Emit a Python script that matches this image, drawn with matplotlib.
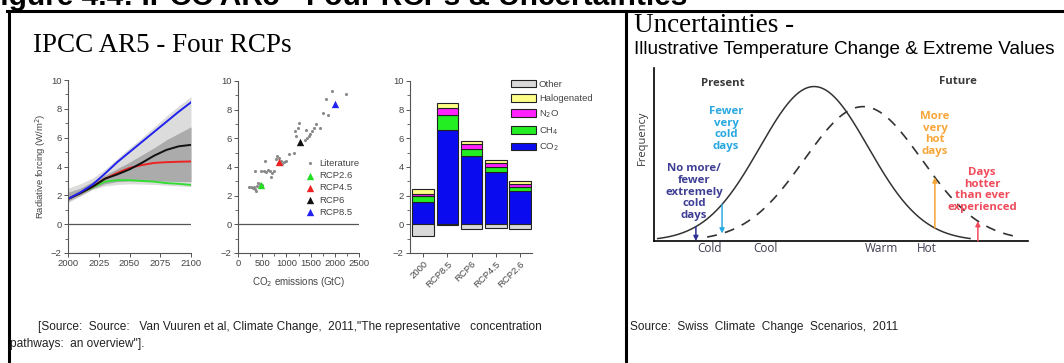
import numpy as np
import matplotlib
matplotlib.use("Agg")
import matplotlib.pyplot as plt
from matplotlib.lines import Line2D
from matplotlib.ticker import MultipleLocator

W, H = 1064, 363

# --- panel 1: radiative forcing pathways (W/m2) ---
years = [2000, 2010, 2020, 2030, 2040, 2050, 2060, 2070, 2080, 2090, 2100]
rcp85 = [1.75, 2.2, 2.75, 3.5, 4.3, 5.0, 5.7, 6.4, 7.1, 7.8, 8.45]
rcp6 = [1.75, 2.15, 2.6, 3.15, 3.45, 3.8, 4.25, 4.75, 5.15, 5.4, 5.5]
rcp45 = [1.75, 2.15, 2.6, 3.15, 3.55, 3.9, 4.1, 4.25, 4.3, 4.33, 4.35]
rcp26 = [1.75, 2.15, 2.55, 2.95, 3.05, 3.05, 3.0, 2.95, 2.85, 2.8, 2.72]
lit_hi = [2.5, 2.8, 3.2, 3.8, 4.55, 5.3, 6.0, 6.75, 7.5, 8.2, 8.85]
lit_lo = [1.5, 1.95, 2.4, 2.65, 2.75, 2.8, 2.78, 2.75, 2.7, 2.65, 2.6]
core_hi = [2.2, 2.5, 2.95, 3.4, 3.85, 4.3, 4.8, 5.3, 5.85, 6.3, 6.75]
core_lo = [1.6, 2.0, 2.45, 2.8, 2.95, 3.0, 3.0, 3.0, 2.98, 2.96, 2.95]

# --- panel 2: forcing vs cumulative CO2 emissions ---
lit_co2 = [230, 270, 300, 340, 360, 380, 400, 420, 450, 500,
           350, 480, 540, 580, 620, 660, 700, 740, 560, 680,
           780, 800, 840, 880, 900, 950, 820, 1000, 1050, 1150,
           1180, 1200, 1230, 1250, 1400, 1430, 1480, 1520, 1560, 1620, 1460, 1380,
           1700, 1750, 1850, 1820, 1950, 2230]
lit_rf = [2.6, 2.6, 2.55, 2.6, 2.45, 2.35, 2.7, 2.9, 2.8, 2.75,
          3.7, 3.75, 3.7, 3.65, 3.8, 3.7, 3.6, 3.75, 4.45, 3.3,
          4.55, 4.8, 4.6, 4.4, 4.2, 4.35, 4.2, 4.4, 4.9, 4.95,
          6.5, 6.15, 6.7, 7.05, 6.6, 6.0, 6.3, 6.5, 6.7, 7.0, 6.15, 5.85,
          6.7, 7.8, 7.6, 8.75, 9.3, 9.1]
rcp_names = ["RCP2.6", "RCP4.5", "RCP6", "RCP8.5"]
rcp_co2 = [470, 840, 1280, 2000]
rcp_rf = [2.75, 4.35, 5.75, 8.4]
rcp_colors = ["#22dd22", "#ee2222", "#111111", "#2222ee"]

# --- panel 3: forcing components per scenario ---
bar_cats = ["2000", "RCP8.5", "RCP6", "RCP4.5", "RCP2.6"]
co2 = [1.55, 6.55, 4.75, 3.62, 2.3]
ch4 = [0.45, 1.07, 0.5, 0.38, 0.28]
n2o = [0.15, 0.52, 0.35, 0.3, 0.2]
halo = [0.35, 0.36, 0.24, 0.22, 0.22]
other = [-0.78, -0.05, -0.35, -0.23, -0.35]

# --- right panel: present / future temperature distributions ---
present_mean, present_sd, present_peak = 42.8, 14.5, 1.0
future_mean, future_sd, future_peak = 55.9, 15.7, 0.87
present_range = (1.0, 84.5)
future_range = (14.2, 97.9)
temp_labels = ["Cold", "Cool", "Warm", "Hot"]
temp_label_px = [710, 765, 882, 927]
arrow_x = [11.2, 18.2, 75.1, 86.6]


def rect(l, t, r, b):
    return [l / W, 1 - b / H, (r - l) / W, (b - t) / H]


def fx(px):
    return px / W


def fy(py):
    return 1 - py / H


plt.rcParams["font.family"] = ["Liberation Sans", "DejaVu Sans"]
fig = plt.figure(figsize=(W / 100, H / 100), dpi=100)
fig.patch.set_facecolor("white")

# frame lines
lw_frame = 2.2
fig.add_artist(Line2D([fx(7), 1], [fy(10.5), fy(10.5)], color="black", lw=lw_frame, transform=fig.transFigure))
fig.add_artist(Line2D([fx(8.5), fx(8.5)], [fy(10.5), 0], color="black", lw=lw_frame, transform=fig.transFigure))
fig.add_artist(Line2D([fx(626), fx(626)], [fy(10.5), 0], color="black", lw=lw_frame, transform=fig.transFigure))

# header, cut off at the top edge as in the source page
fig.text(fx(-18), fy(5), "Figure 4.4: IPCC AR5 - Four RCPs & Uncertainties",
         fontsize=21.5, fontweight="bold", ha="left", va="baseline")

fig.text(fx(33), fy(52), "IPCC AR5 - Four RCPs", family="Liberation Serif",
         fontsize=19.5, ha="left", va="baseline")
fig.text(fx(634), fy(32), "Uncertainties -", family="Liberation Serif",
         fontsize=19.5, ha="left", va="baseline")
fig.text(fx(634), fy(54), "Illustrative Temperature Change & Extreme Values",
         fontsize=13.6, ha="left", va="baseline")

tick_col = "#444444"


def style_small(ax):
    for s in ["top", "right"]:
        ax.spines[s].set_visible(False)
    for s in ["left", "bottom"]:
        ax.spines[s].set_color("#555555")
        ax.spines[s].set_linewidth(0.8)
    ax.tick_params(labelsize=6.8, colors="#555555", labelcolor=tick_col, length=3, width=0.7, pad=1.5)
    ax.tick_params(which="minor", length=2, width=0.6, colors="#555555")
    ax.set_ylim(-2, 10)
    ax.yaxis.set_major_locator(MultipleLocator(2))
    ax.yaxis.set_minor_locator(MultipleLocator(1))
    ax.patch.set_alpha(0)


# panel 1
ax1 = fig.add_axes(rect(68, 80, 191, 253))
ax1.fill_between(years, lit_lo, lit_hi, color="#dcdcdc", lw=0)
ax1.fill_between(years, core_lo, core_hi, color="#ababab", lw=0)
ax1.axhline(0, color="#555555", lw=0.9)
ax1.plot(years, rcp26, color="#33dd33", lw=1.4)
ax1.plot(years, rcp45, color="#ee2222", lw=1.4)
ax1.plot(years, rcp6, color="#111111", lw=1.4)
ax1.plot(years, rcp85, color="#2222ee", lw=1.4)
ax1.set_xlim(2000, 2100)
ax1.set_xticks([2000, 2025, 2050, 2075, 2100])
style_small(ax1)
ax1.set_ylabel("Radiative forcing (W/m$^2$)", fontsize=6.8, color=tick_col, labelpad=2)

# panel 2
ax2 = fig.add_axes(rect(238, 81, 359, 253))
ax2.axhline(0, color="#555555", lw=0.9)
ax2.scatter(lit_co2, lit_rf, s=5, color="#8a8a8a", lw=0, label="Literature")
for name, xv, yv, c in zip(rcp_names, rcp_co2, rcp_rf, rcp_colors):
    ax2.scatter([xv], [yv], marker="^", s=28, color=c, lw=0, label=name, zorder=3)
ax2.set_xlim(0, 2500)
ax2.set_xticks([0, 500, 1000, 1500, 2000, 2500])
ax2.xaxis.set_minor_locator(MultipleLocator(250))
style_small(ax2)
ax2.set_xlabel("CO$_2$ emissions (GtC)", fontsize=7, color=tick_col, labelpad=5)
ax2.legend(loc="upper left", bbox_to_anchor=(0.52, 0.57), frameon=False, fontsize=6.8,
           handletextpad=0.3, labelspacing=0.35, borderaxespad=0, handlelength=1.2,
           labelcolor=tick_col)

# panel 3
ax3 = fig.add_axes(rect(410, 81, 532, 253))
pos = np.arange(len(bar_cats))
bw = 0.9
ek = dict(edgecolor="#222222", linewidth=0.8, width=bw)
b_co2 = ax3.bar(pos, co2, color="#0b0bf0", **ek)
bot = np.array(co2)
b_ch4 = ax3.bar(pos, ch4, bottom=bot, color="#22ee22", **ek)
bot = bot + np.array(ch4)
b_n2o = ax3.bar(pos, n2o, bottom=bot, color="#ff22ff", **ek)
bot = bot + np.array(n2o)
b_halo = ax3.bar(pos, halo, bottom=bot, color="#ffff88", **ek)
b_oth = ax3.bar(pos, other, color="#d9d9d9", **ek)
ax3.set_xlim(-0.55, 4.5)
ax3.set_xticks(pos)
ax3.set_xticklabels(bar_cats, rotation=45, ha="right", rotation_mode="anchor")
style_small(ax3)
ax3.legend([b_oth, b_halo, b_n2o, b_ch4, b_co2],
           ["Other", "Halogenated", "N$_2$O", "CH$_4$", "CO$_2$"],
           loc="upper left", bbox_to_anchor=(0.8, 1.03), frameon=False, fontsize=6.8,
           handlelength=2.6, handleheight=0.9, handletextpad=0.3, labelspacing=0.55,
           borderaxespad=0, labelcolor=tick_col)

# right panel
axr = fig.add_axes(rect(654, 68, 1028, 241))
for s in ["top", "right"]:
    axr.spines[s].set_visible(False)
for s in ["left", "bottom"]:
    axr.spines[s].set_linewidth(1.2)
axr.set_xticks([])
axr.set_yticks([])
axr.set_xlim(0, 100)
axr.set_ylim(0, 1.12)


def present(x):
    return present_peak * np.exp(-0.5 * ((x - present_mean) / present_sd) ** 2)


def future(x):
    return future_peak * np.exp(-0.5 * ((x - future_mean) / future_sd) ** 2)


xp = np.linspace(*present_range, 300)
xf = np.linspace(*future_range, 300)
axr.plot(xp, present(xp), color="#333333", lw=1.1)
axr.plot(xf, future(xf), color="#333333", lw=1.2, linestyle=(0, (6, 5)))

arrow_cols = ["#2e3192", "#29abe2", "#f7a535", "#ef4b5b"]
starts = [present(arrow_x[0]), present(arrow_x[1]), present(arrow_x[2]), 0]
ends = [0, future(arrow_x[1]), future(arrow_x[2]), future(arrow_x[3])]
for xa, y0, y1, c in zip(arrow_x, starts, ends, arrow_cols):
    axr.annotate("", xy=(xa, y1), xytext=(xa, y0),
                 arrowprops=dict(arrowstyle="-|>", color=c, lw=1.1, mutation_scale=7,
                                 shrinkA=0, shrinkB=0))

tf = dict(family=["Open Sans", "DejaVu Sans"], fontweight="bold", ha="center", va="center",
          linespacing=1.08, fontsize=8.2)
fig.text(fx(723), fy(83), "Present", color="#3a3a3a", **tf)
fig.text(fx(958), fy(82), "Future", color="#3a3a3a", **tf)
fig.text(fx(726), fy(129), "Fewer\nvery\ncold\ndays", color="#29a8e0", **tf)
fig.text(fx(694), fy(192), "No more/\nfewer\nextremely\ncold\ndays", color="#3f3f94", **tf)
fig.text(fx(935), fy(134), "More\nvery\nhot\ndays", color="#f8a63a", **tf)
fig.text(fx(982), fy(190), "Days\nhotter\nthan ever\nexperienced", color="#ef4b5b", **tf)
for lab, px in zip(temp_labels, temp_label_px):
    fig.text(fx(px), fy(248), lab, color="#3c3c50", family=["Open Sans", "DejaVu Sans"],
             fontsize=8.5, ha="center", va="center")
fig.text(fx(642), fy(138), "Frequency", color="#3a3a3a", family=["Open Sans", "DejaVu Sans"],
         fontsize=8, rotation=90, ha="center", va="center")

# sources
fig.text(fx(38), fy(327), '[Source:  Source:   Van Vuuren et al, Climate Change,  2011,"The representative   concentration',
         fontsize=8.6, color="#222222", ha="left", va="center")
fig.text(fx(10), fy(344), 'pathways:  an overview"].', fontsize=8.6, color="#222222", ha="left", va="center")
fig.text(fx(630), fy(327), "Source:  Swiss  Climate  Change  Scenarios,  2011",
         fontsize=8.6, color="#222222", ha="left", va="center")

fig.savefig("out.png", dpi=100)
